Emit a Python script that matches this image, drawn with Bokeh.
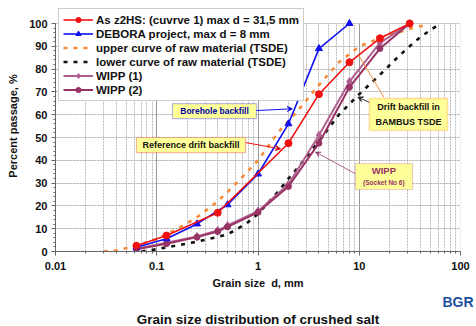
from bokeh.plotting import figure
from bokeh.models import (FixedTicker, CustomJSTickFormatter, Legend, LegendItem,
                          Label, BoxAnnotation, Arrow, VeeHead, Title)
from bokeh.embed import file_html
from bokeh.resources import INLINE

FONT = "Liberation Sans"

# ---------------- data ----------------
red_x = [0.063, 0.125, 0.4, 2, 4, 8, 16, 31.5]
red_y = [2.5, 7, 17, 47.5, 69, 83, 93.5, 100]

blue_x = [0.063, 0.125, 0.25, 0.5, 1, 2, 4, 8]
blue_y = [1.9, 5.6, 12.1, 20.5, 34, 56, 89, 100]

upper_x = [0.03, 0.04, 0.063, 0.1, 0.16, 0.25, 0.4, 0.63, 1, 1.6, 2.5, 4, 6.3, 10, 16, 31.5, 45]
upper_y = [0, 0.5, 2.5, 5.5, 10, 15, 22, 30.5, 40, 52.5, 62, 73, 83, 90, 93.5, 97.7, 99.3]

lower_x = [0.071, 0.08, 0.1, 0.16, 0.25, 0.4, 0.5, 0.63, 0.8, 1, 1.6, 2, 2.5, 4, 6.3, 10, 16, 25, 31.5, 40, 50, 63]
lower_y = [0, 0.4, 1, 2.7, 4.3, 6.4, 7.5, 10, 12.9, 16.5, 26.5, 32, 37, 48.5, 60, 69, 77.5, 86, 90, 94, 97, 100]

wipp_x = [0.063, 0.125, 0.25, 0.4, 0.5, 1, 2, 4, 8, 16, 31.5]
wipp1_y = [1.2, 3.8, 6.6, 9.2, 11.4, 17.7, 29.5, 51, 74.5, 91.5, 100]
wipp2_y = [1.0, 3.4, 6.3, 8.8, 10.8, 17.2, 28.5, 47.5, 72, 89, 100]

x_ticks = [0.01, 0.1, 1, 10, 100]
x_minor = [m * d for d in [0.01, 0.1, 1, 10] for m in range(2, 10)]
y_ticks = list(range(0, 101, 10))
y_minor = list(range(0, 101, 2))

labels = ["As z2HS: (cuvrve 1) max d = 31,5 mm",
          "DEBORA project, max d = 8 mm",
          "upper curve of raw material (TSDE)",
          "lower curve of raw material (TSDE)",
          "WIPP (1)",
          "WIPP (2)"]

Y_TOP = 100 * 251 / 228  # frame reaches the top edge; 100 % sits 23 px below it

# ---------------- figure ----------------
p = figure(width=476, height=326, x_axis_type="log", x_range=(0.01, 100), y_range=(0, Y_TOP),
           output_backend="svg", toolbar_location=None,
           min_border_left=55, min_border_right=16, min_border_top=0, min_border_bottom=75,
           background_fill_color="white", border_fill_color="white")
p.outline_line_color = None

xt = FixedTicker(ticks=x_ticks, minor_ticks=x_minor)
p.xaxis.ticker = xt
p.xgrid.ticker = xt
p.xaxis.formatter = CustomJSTickFormatter(code="return String(tick);")
yt = FixedTicker(ticks=y_ticks, minor_ticks=y_minor)
p.yaxis.ticker = yt
p.ygrid.ticker = yt
p.yaxis.bounds = (0, 100)

p.xgrid.grid_line_color = "#999999"
p.xgrid.minor_grid_line_color = "#BBBBBB"
p.xgrid.minor_grid_line_dash = "2 1"
p.ygrid.grid_line_color = "#AAAAAA"
p.ygrid.grid_line_dash = "2 1"

# hide grid above 100 % and draw the plot-area border
p.add_layout(BoxAnnotation(bottom=100, fill_color="white", fill_alpha=1.0, line_alpha=0,
                           level="underlay"))
p.add_layout(BoxAnnotation(left=0.01, right=100, bottom=0, top=100, fill_alpha=0,
                           line_color="#999999", line_width=1, level="underlay"))

for ax in (p.xaxis[0], p.yaxis[0]):
    ax.axis_line_color = "#666666"
    ax.major_tick_line_color = "#666666"
    ax.minor_tick_line_color = "#666666"
    ax.major_tick_out = 4
    ax.major_tick_in = 0
    ax.minor_tick_out = 2
    ax.minor_tick_in = 0
    ax.major_label_text_font = FONT
    ax.major_label_text_font_style = "bold"
    ax.major_label_text_font_size = "11px"
    ax.major_label_text_color = "#111111"
    ax.axis_label_text_font = FONT
    ax.axis_label_text_font_style = "bold"
    ax.axis_label_text_font_size = "11px"
    ax.axis_label_text_color = "#111111"

p.xaxis.axis_label = "Grain size\u00a0\u00a0d, mm"
p.xaxis.major_label_standoff = 6
p.xaxis.axis_label_standoff = 4
p.yaxis.axis_label = "Percent passage, %"
p.yaxis.major_label_standoff = 4
p.yaxis.axis_label_standoff = 7

# ---------------- series ----------------
r_up = p.line(upper_x, upper_y, line_color="#F7893A", line_width=2.6, line_dash="4 6")
r_lo = p.line(lower_x, lower_y, line_color="#111111", line_width=2.6, line_dash="4 6")

r_w1l = p.line(wipp_x, wipp1_y, line_color="#B0608F", line_width=2)
r_w1m = p.scatter(wipp_x, wipp1_y, marker="diamond", size=8, color="#B0608F")
r_w2l = p.line(wipp_x, wipp2_y, line_color="#993366", line_width=2)
r_w2m = p.scatter(wipp_x, wipp2_y, marker="circle", size=6, color="#993366")

r_bl = p.line(blue_x, blue_y, line_color="#1010F0", line_width=1.6)
r_bm = p.scatter(blue_x, blue_y, marker="triangle", size=7, color="#1010F0")
r_rl = p.line(red_x, red_y, line_color="#F01010", line_width=1.6)
r_rm = p.scatter(red_x, red_y, marker="circle", size=7, color="#F01010")

legend = Legend(items=[
    LegendItem(label=labels[0], renderers=[r_rl, r_rm]),
    LegendItem(label=labels[1], renderers=[r_bl, r_bm]),
    LegendItem(label=labels[2], renderers=[r_up]),
    LegendItem(label=labels[3], renderers=[r_lo]),
    LegendItem(label=labels[4], renderers=[r_w1l, r_w1m]),
    LegendItem(label=labels[5], renderers=[r_w2l, r_w2m]),
], location=(3, 150))
legend.label_text_font = FONT
legend.label_text_font_style = "bold"
legend.label_text_font_size = "11.5px"
legend.label_text_color = "#111111"
legend.glyph_width = 30
legend.glyph_height = 13
legend.label_height = 13
legend.label_standoff = 3
legend.spacing = 1
legend.padding = 4
legend.margin = 0
legend.border_line_color = "#999999"
legend.background_fill_alpha = 1.0
p.add_layout(legend)

# ---------------- annotations ----------------
YEL = "#FFFF99"
def box(l, r, b, t, color, w=1.2):
    p.add_layout(BoxAnnotation(left=l, right=r, bottom=b, top=t, fill_color=YEL, fill_alpha=1.0,
                               line_color=color, line_width=w, level="overlay"))

def txt(x, y, s, color="#111111", size="9px"):
    p.add_layout(Label(x=x, y=y, text=s, text_align="center", text_baseline="middle",
                       text_font=FONT, text_font_style="bold", text_font_size=size,
                       text_color=color, level="overlay"))

def arrow(x0, y0, x1, y1, color, head=True):
    end = VeeHead(size=5, line_color=color, line_width=1) if head else None
    p.add_layout(Arrow(x_start=x0, y_start=y0, x_end=x1, y_end=y1, line_color=color,
                       line_width=1, end=end, level="overlay"))

# Borehole backfill
arrow(0.95, 61.8, 2.18, 62.6, "#1010F0")
box(0.143, 0.966, 58.3, 64.9, "#1010F0")
txt(0.372, 61.6, "Borehole backfill", color="#0000AA", size="8.5px")

# Reference drift backfill
arrow(0.75, 47.8, 1.67, 45.0, "#F01010")
box(0.0631, 0.753, 43.4, 50.0, "#F01010")
txt(0.218, 46.7, "Reference drift backfill")

# Drift backfill in BAMBUS TSDE
arrow(17.5, 67.7, 9.9, 86.0, "#F7893A", head=False)
arrow(12.9, 65.2, 9.7, 67.7, "#333333")
box(12.6, 74.4, 53.1, 67.1, "#F7A030", w=1.8)
txt(30.6, 63.4, "Drift backfill in")
txt(30.6, 57.0, "BAMBUS TSDE")

# WIPP (Socket No 6)
arrow(9.2, 34.1, 3.7, 43.6, "#B0608F")
box(9.18, 33.6, 27.2, 38.6, "#B0608F")
txt(17.5, 35.5, "WIPP", color="#993366", size="9.5px")
txt(17.5, 30.2, "(Socket No 6)", color="#993366", size="6.5px")

# bottom: logo row, then title
logo = Title(text="BGR", align="right", offset=-13, standoff=0, text_font=FONT,
             text_font_style="bold", text_font_size="14px", text_color="#1F4FA0")
p.add_layout(logo, "below")
main_title = Title(text="Grain size distribution of crushed salt", align="center", offset=5,
                   standoff=0, text_font=FONT, text_font_style="bold", text_font_size="13.5px",
                   text_color="#111111")
p.add_layout(main_title, "below")

open("out.html", "w").write(file_html(p, INLINE))
